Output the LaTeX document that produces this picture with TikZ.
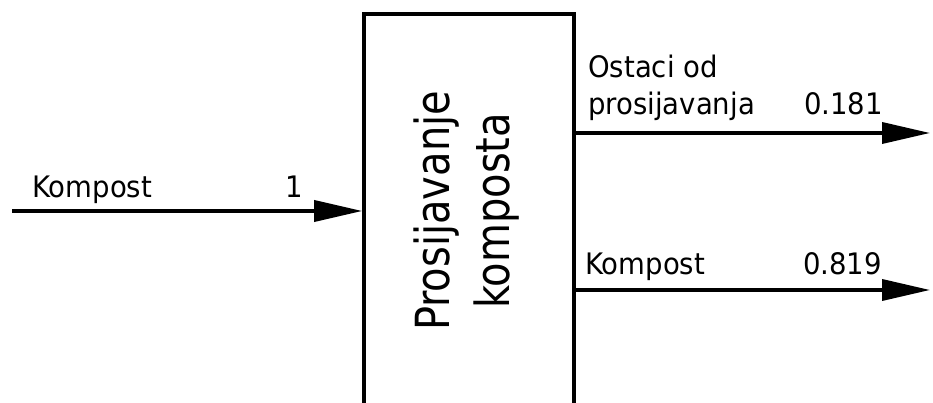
\documentclass[tikz,border=0pt]{standalone}
\usepackage{fontspec}
\newfontfamily\isofont[FakeStretch=0.93]{DejaVu Sans}
\newfontfamily\isobig[FakeStretch=0.85]{DejaVu Sans}
\usetikzlibrary{arrows.meta}
\begin{document}
\begin{tikzpicture}[x=1pt,y=1pt,
  flow/.style={line width=3.6pt,-{Triangle[length=48pt,width=21pt]}},
  lbl/.style={inner sep=0pt,font=\isofont\fontsize{29.6}{32}\selectfont},
  procbox/.style={draw,line width=3.6pt,minimum width=210pt,minimum height=409pt,inner sep=0pt}]
\useasboundingbox (0,0) rectangle (933,403);
\node[procbox] (box) at (469,184.5) {};
\node[inner sep=0pt,rotate=90,align=center,font=\isobig\fontsize{47}{60}\selectfont] (boxtext) at (467,192) {Prosijavanje\\komposta};
\coordinate (in) at (12,192);
\coordinate (out1) at (930,270);
\coordinate (out2) at (930,113);
\draw[flow] (in) -- (in -| box.west);
\draw[flow] (out1 -| box.east) -- (out1);
\draw[flow] (out2 -| box.east) -- (out2);
\node[lbl,anchor=base west] (l1) at (32,205) {Kompost};
\node[lbl,anchor=base east] (v1) at (303,205) {1};
\node[lbl,anchor=base west] (l2a) at (588,325) {Ostaci od};
\node[lbl,anchor=base west] (l2b) at (588,288) {prosijavanja};
\node[lbl,anchor=base east] (v2) at (883,288) {0.181};
\node[lbl,anchor=base west] (l3) at (585,128) {Kompost};
\node[lbl,anchor=base east] (v3) at (882,128) {0.819};
\end{tikzpicture}
\end{document}
